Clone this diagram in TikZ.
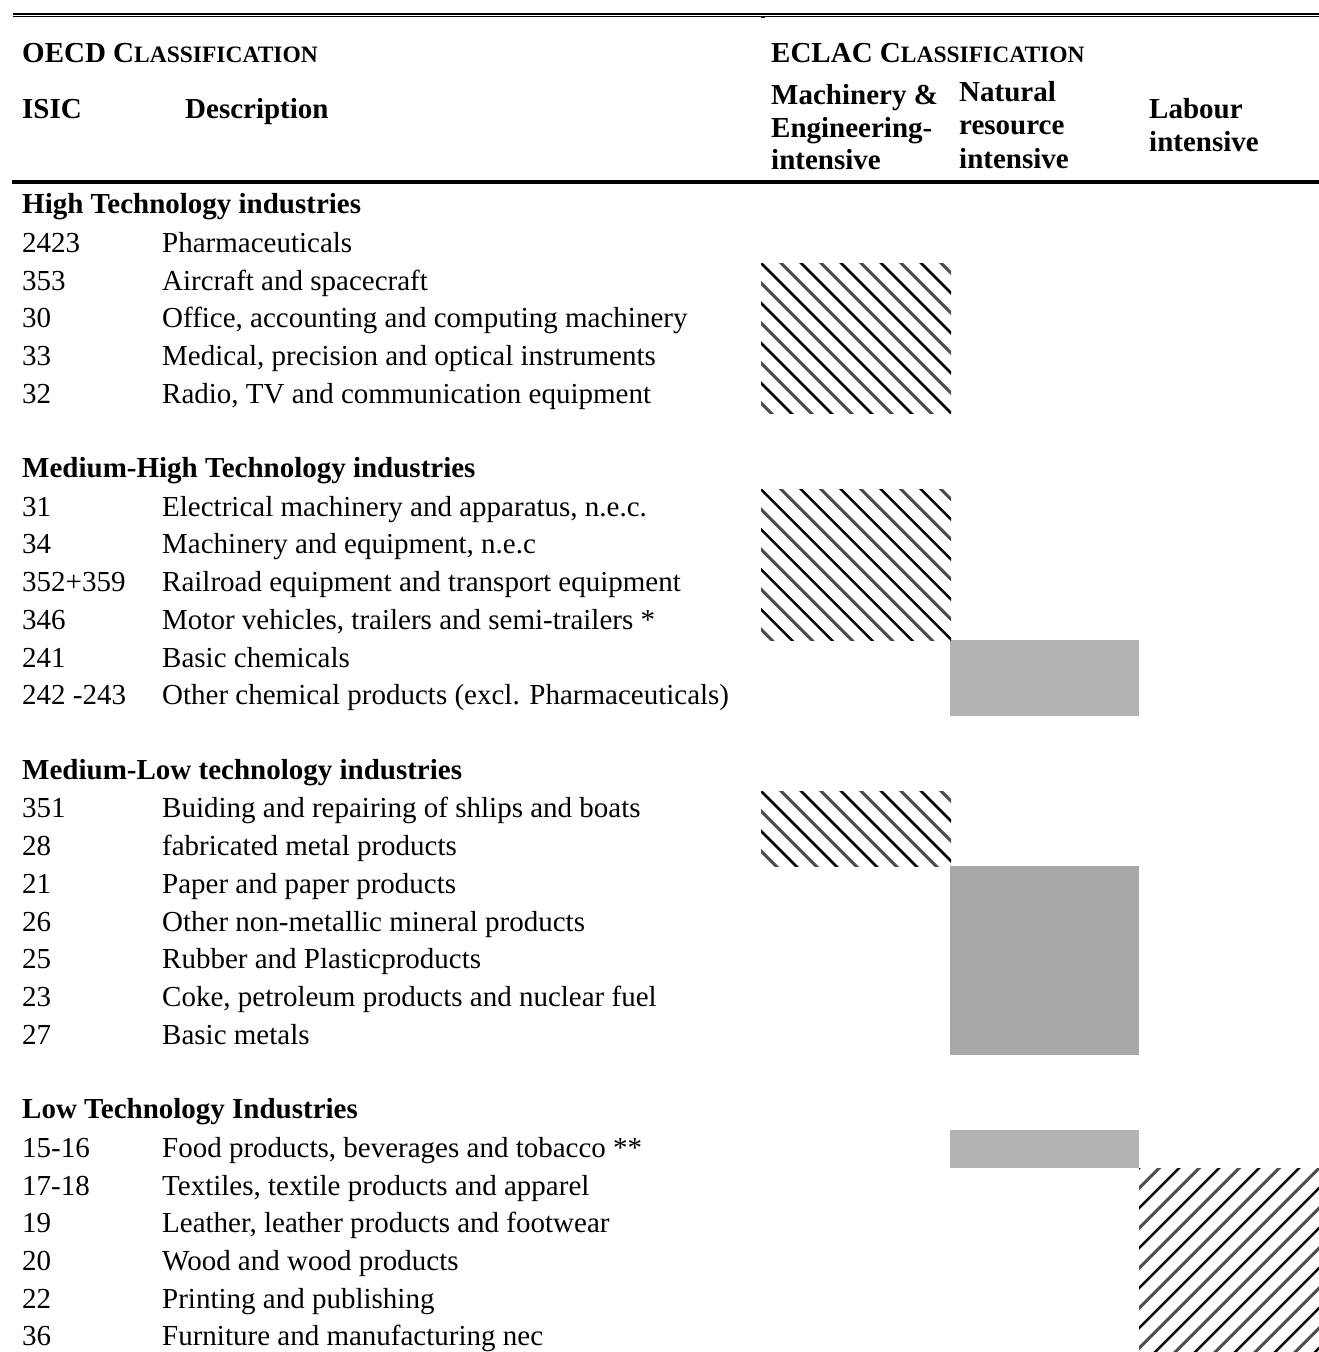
\documentclass[tikz,border=0pt]{standalone}
\usepackage{fontspec}
\setmainfont{Liberation Serif}
\newcommand\scap[1]{{\fontsize{23.5}{28}\selectfont #1}}
\begin{document}
\begin{tikzpicture}[x=1pt,y=-1pt,
  txt/.style={inner sep=0pt, anchor=base west, font=\fontsize{29}{34}\selectfont},
  hd/.style={txt, font=\fontsize{29}{34}\selectfont\bfseries},
  hatchline/.style={line width=2.5pt, black},
  hatchsoft/.style={line width=3pt, black!70},
  lightgray/.style={fill={rgb,255:red,179;green,179;blue,179}},
  darkgray/.style={fill={rgb,255:red,168;green,168;blue,168}}]
\useasboundingbox (0,0) rectangle (1319,1352);
\fill[white] (0,0) rectangle (1319,1352);
% top rules
\fill[black] (13,13) rectangle (1319,15);
\fill[black] (13,15.8) rectangle (1319,16.8);
\fill[black] (761,16.7) rectangle (765,17.8);
% header rule
\fill[black] (12,180) rectangle (1319,184);
% header texts
\node[hd] (oecd) at (22,62) {OECD C\scap{LASSIFICATION}};
\node[hd] (eclac) at (771,62) {ECLAC C\scap{LASSIFICATION}};
\node[hd] (isic) at (22,118) {ISIC};
\node[hd] (descr) at (185,118) {Description};
\node[hd] (mach1) at (771,104) {Machinery \&};
\node[hd] (mach2) at (771,137) {Engineering-};
\node[hd] (mach3) at (771,169) {intensive};
\node[hd] (nat1) at (959,101) {Natural};
\node[hd] (nat2) at (959,134) {resource};
\node[hd] (nat3) at (959,168) {intensive};
\node[hd] (lab1) at (1149,118) {Labour};
\node[hd] (lab2) at (1149,151) {intensive};
% section headings
\foreach \k/\t in {0/High Technology industries, 7/Medium-High Technology industries, 15/Medium-Low technology industries, 24/Low Technology Industries}{
  \pgfmathsetmacro\yy{213.6+37.71*\k}
  \node[hd] (h\k) at (22,\yy) {\t};
}
% rows
\foreach \k/\c/\d in {
  1/2423/Pharmaceuticals,
  2/353/Aircraft and spacecraft,
  3/30/{Office, accounting and computing machinery},
  4/33/{Medical, precision and optical instruments},
  5/32/{Radio, TV and communication equipment},
  8/31/{Electrical machinery and apparatus, n.e.c.},
  9/34/{Machinery and equipment, n.e.c},
  10/352+359/Railroad equipment and transport equipment,
  11/346/{Motor vehicles, trailers and semi-trailers *},
  12/241/Basic chemicals,
  13/242 -243/Other chemical products (excl. Pharmaceuticals),
  16/351/Buiding and repairing of shlips and boats,
  17/28/fabricated metal products,
  18/21/Paper and paper products,
  19/26/Other non-metallic mineral products,
  20/25/Rubber and Plasticproducts,
  21/23/{Coke, petroleum products and nuclear fuel},
  22/27/Basic metals,
  25/15-16/{Food products, beverages and tobacco **},
  26/17-18/{Textiles, textile products and apparel},
  27/19/{Leather, leather products and footwear},
  28/20/Wood and wood products,
  29/22/Printing and publishing,
  30/36/Furniture and manufacturing nec}{
  \pgfmathsetmacro\yy{214.6+37.71*\k}
  \node[txt] (c\k) at (22,\yy) {\c};
  \node[txt] (d\k) at (162,\yy) {\d};
}
% gray boxes
\fill[lightgray] (950,640.1) rectangle (1139,715.5);
\fill[darkgray] (950,866.4) rectangle (1139,1055);
\fill[lightgray] (950,1130.4) rectangle (1139,1168.1);
% hatched boxes (down-right)
\foreach \xa/\ya/\xb/\yb in {761/263/951/413.9, 761/489.3/951/640.1, 761/791/951/866.4}{
  \begin{scope}
    \clip (\xa,\ya) rectangle (\xb,\yb);
    \foreach \n in {-6,...,6}{
      \draw[hatchline] (\xa+40*\n-5,\ya-5) -- (\xa+40*\n+200,\ya+200);
      \draw[hatchsoft] (\xa+40*\n+15,\ya-5) -- (\xa+40*\n+220,\ya+200);
    }
  \end{scope}
}
% hatched box (up-right)
\begin{scope}
  \clip (1139,1168.1) rectangle (1319,1352);
  \foreach \n in {-2,...,12}{
    \draw[hatchline] (1139+40*\n+5,1168.1-5) -- (1139+40*\n-200,1168.1+200);
    \draw[hatchsoft] (1139+40*\n+25,1168.1-5) -- (1139+40*\n-180,1168.1+200);
  }
\end{scope}
\end{tikzpicture}
\end{document}
